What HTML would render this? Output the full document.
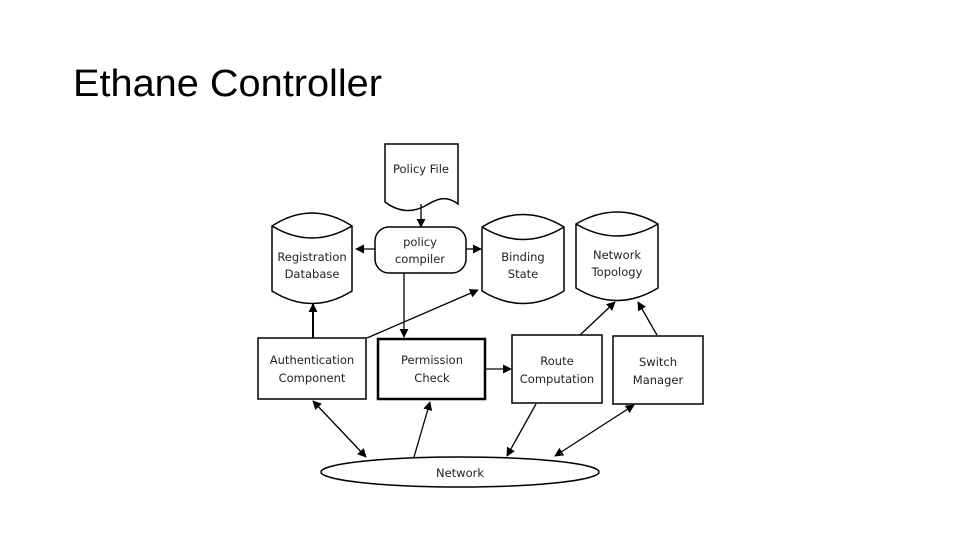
<!DOCTYPE html>
<html><head><meta charset="utf-8"><style>html,body{margin:0;padding:0;background:#fff;width:960px;height:540px;overflow:hidden}</style></head>
<body>
<svg width="960" height="540" viewBox="0 0 960 540" xmlns="http://www.w3.org/2000/svg">
<defs>
<marker id="a" viewBox="0 0 10 10" refX="9" refY="5" markerWidth="9" markerHeight="9" orient="auto-start-reverse" markerUnits="userSpaceOnUse"><path d="M0,0 L10,5 L0,10 z" fill="#000"/></marker>
</defs>
<text x="73" y="96" font-family="Liberation Sans, sans-serif" font-size="38" textLength="309" lengthAdjust="spacingAndGlyphs" fill="#000">Ethane Controller</text>
<g fill="#fff" stroke="#000" stroke-width="1.5">
<!-- policy file -->
<path d="M385,144 H458 V204 C445,194 435,200 425,206 C412,213 398,212 385,202 Z"/>
<!-- registration DB -->
<path d="M272,226 Q312,200 352,226 V291 Q312,316 272,291 Z"/>
<path d="M272,226 Q312,250 352,226" fill="none"/>
<!-- binding -->
<path d="M482,227 Q523,202 564,227 V291 Q523,316 482,291 Z"/>
<path d="M482,227 Q523,252 564,227" fill="none"/>
<!-- topology -->
<path d="M576,224 Q617,200 658,224 V288 Q617,313 576,288 Z"/>
<path d="M576,224 Q617,248 658,224" fill="none"/>
<!-- compiler -->
<rect x="375" y="227" width="91" height="46" rx="14"/>
<!-- boxes -->
<rect x="258" y="338" width="108" height="61"/>
<rect x="378" y="339" width="107" height="60" stroke-width="2.5"/>
<rect x="512" y="335" width="90" height="68"/>
<rect x="613" y="336" width="90" height="68"/>
<ellipse cx="460" cy="472" rx="139" ry="15"/>
</g>
<g fill="none" stroke="#000" stroke-width="1.3" marker-end="url(#a)">
<line x1="421" y1="204" x2="421" y2="227"/>
<line x1="375" y1="249" x2="356" y2="249"/>
<line x1="466" y1="249" x2="481" y2="249"/>
<line x1="404" y1="273" x2="404" y2="337"/>
<line x1="313" y1="338" x2="313" y2="304" stroke-width="2"/>
<line x1="367" y1="338" x2="478" y2="290"/>
<line x1="485" y1="369" x2="511" y2="369"/>
<line x1="580" y1="335" x2="615" y2="302"/>
<line x1="657" y1="335" x2="638" y2="302"/>
<line x1="313" y1="401" x2="366" y2="457" marker-start="url(#a)"/>
<line x1="414" y1="457" x2="430" y2="402"/>
<line x1="536" y1="404" x2="507" y2="456"/>
<line x1="634" y1="405" x2="555" y2="456" marker-start="url(#a)"/>
</g>
<g font-family="DejaVu Sans, sans-serif" font-size="11.5" text-anchor="middle" fill="#222">
<text x="421" y="173">Policy File</text>
<text x="420" y="246">policy</text><text x="420" y="263">compiler</text>
<text x="312" y="261">Registration</text><text x="312" y="278">Database</text>
<text x="523" y="261">Binding</text><text x="523" y="278">State</text>
<text x="617" y="259">Network</text><text x="617" y="276">Topology</text>
<text x="312" y="364">Authentication</text><text x="312" y="382">Component</text>
<text x="432" y="364">Permission</text><text x="432" y="382">Check</text>
<text x="557" y="365">Route</text><text x="557" y="383">Computation</text>
<text x="658" y="366">Switch</text><text x="658" y="384">Manager</text>
<text x="460" y="477">Network</text>
</g>
</svg>
</body></html>
